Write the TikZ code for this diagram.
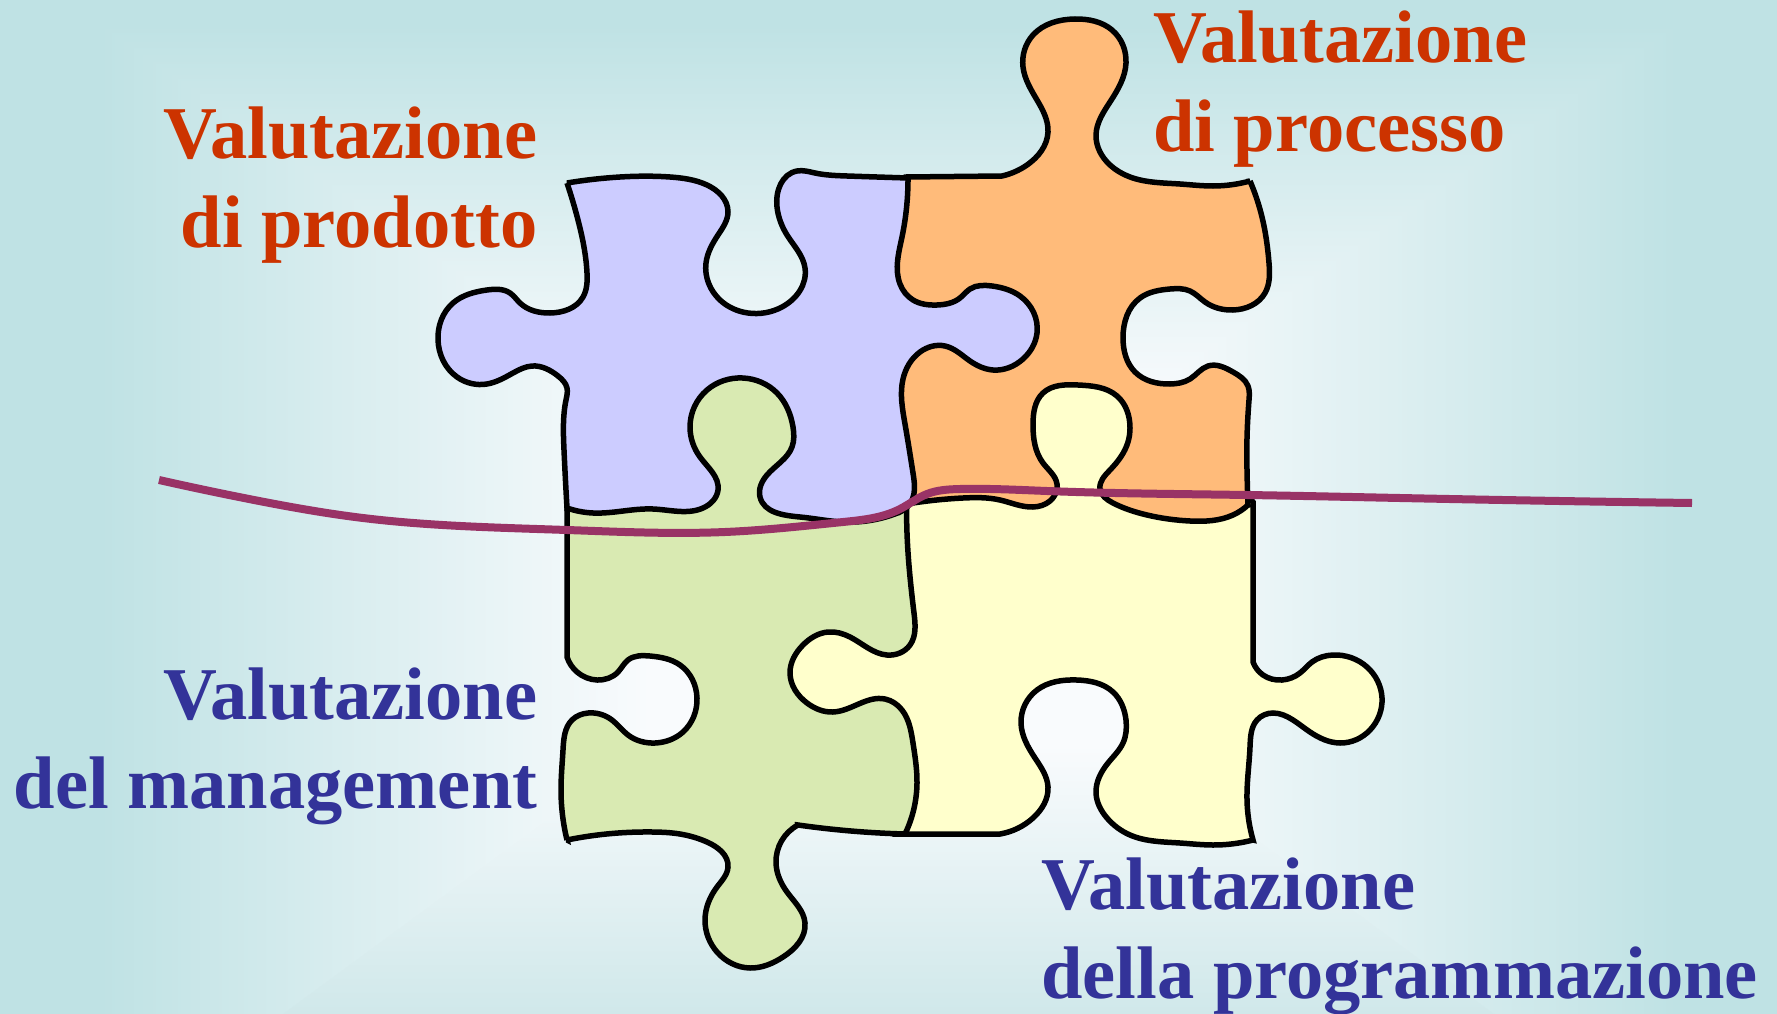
\documentclass[tikz,border=0pt]{standalone}
\usepackage{fontspec}
\usetikzlibrary{hobby}
\setmainfont{Liberation Serif}
\definecolor{bgedge}{HTML}{BFE2E4}
\definecolor{bgbot}{HTML}{D0E8EA}
\definecolor{bgmid}{HTML}{F9FBFD}
\definecolor{txtred}{HTML}{CC3300}
\definecolor{txtblue}{HTML}{333399}
\definecolor{pviolet}{HTML}{CCCCFF}
\definecolor{porange}{HTML}{FFBB7A}
\definecolor{pgreen}{HTML}{D9EAB2}
\definecolor{pyellow}{HTML}{FFFFCC}
\definecolor{wire}{HTML}{993366}
\pgfdeclareverticalshading{bgtop}{100bp}{color(0bp)=(bgmid); color(25bp)=(bgmid); color(71.9bp)=(bgedge); color(100bp)=(bgedge)}
\pgfdeclarehorizontalshading{bgleft}{100bp}{color(0bp)=(bgedge); color(32.7bp)=(bgedge); color(75bp)=(bgmid); color(100bp)=(bgmid)}
\pgfdeclarehorizontalshading{bgright}{100bp}{color(0bp)=(bgmid); color(25bp)=(bgmid); color(67.3bp)=(bgedge); color(100bp)=(bgedge)}
\tikzset{
  piece/.style={draw=black,line width=5.5pt,line join=miter,miter limit=3,use Hobby shortcut},
  lab/.style={font=\fontsize{74.5}{89}\selectfont\bfseries,inner sep=0pt}
}
\begin{document}
\begin{tikzpicture}[x=1pt,y=-1pt]
\useasboundingbox (0,0) rectangle (1777,1014);
% background
\fill[bgmid] (640,0) rectangle (1137,1014);
\shade[shading=bgleft,shading angle=0] (0,0) rectangle (650,1014);
\shade[shading=bgright,shading angle=0] (1127,0) rectangle (1777,1014);
\shade[shading=bgtop,shading angle=0] (0,0) -- (1777,0) -- (1677,25) -- (1127,405) -- (650,405) -- (100,25) -- cycle;
\shade[top color=bgmid,bottom color=bgbot] (650,745) -- (1127,745) -- (1494,1014) -- (283,1014) -- cycle;
% yellow
\path[piece,fill=pyellow]
  (1253,502) -- (1253,662)
  .. (1263,675) .. (1282,680) .. (1300,673) .. (1312,662) .. (1333,655) .. (1367,667) .. (1382,698) .. (1370,730) .. (1340,743) .. (1310,732) .. (1293,720) .. (1273,713) .. (1257,720) .. (1250,747) .. (1247,800) .. (1253,840)
  -- (1253,840)
  .. (1213,845) .. (1180,843) .. (1130,835) .. (1107,818) .. (1096,793) .. (1108,763) .. (1123,743) .. (1126,720) .. (1113,692) .. (1077,680) .. (1037,690) .. (1021,723) .. (1035,758) .. (1048,787) .. (1033,818) .. (1000,834)
  -- (895,834) -- (895,730) -- (780,730) -- (780,625) -- (895,625) -- (895,480) -- (1020,480) -- (1020,382) -- (1134,382) -- (1134,480) -- (1235,480) -- cycle;
% green
\path[piece,fill=pgreen]
  (567,490) -- (567,657)
  .. (577,672) .. (597,680) .. (618,672) .. (628,660) .. (650,656) .. (680,665) .. (697,698) .. (683,732) .. (655,743) .. (628,735) .. (612,720) .. (588,713) .. (572,720) .. (563,750) .. (561,790) .. (567,840)
  -- (567,840)
  .. (590,836) .. (653,832) .. (680,834) .. (707,842) .. (728,867) .. (717,887) .. (705,920) .. (717,952) .. (750,968) .. (783,957) .. (805,923) .. (787,892) .. (776,863) .. (798,825)
  -- (798,825)
  .. (840,830) .. (905,834)
  -- (905,834)
  .. (917,783) .. (913,743) .. (902,710) .. (885,699) .. (833,712) .. (807,703) .. (790,673) .. (803,645) .. (828,632) .. (850,637) .. (887,655) .. (910,645) .. (914,613) .. (907,533) .. (907,490)
  -- (800,480) -- (800,370) -- (680,370) -- (680,480) -- cycle;
% orange
\path[piece,fill=porange]
  (906,177) -- (1002,176)
  .. (1027,165) .. (1048,132) .. (1037,100) .. (1023,67) .. (1033,35) .. (1075,19) .. (1112,30) .. (1126,63) .. (1110,102) .. (1096,135) .. (1110,165) .. (1130,177) .. (1180,184) .. (1213,186) .. (1250,181)
  -- (1250,181)
  .. (1262,217) .. (1269,263) .. (1265,293) .. (1233,310) .. (1205,302) .. (1190,291) .. (1170,289) .. (1140,298) .. (1123,338) .. (1135,372) .. (1170,384) .. (1190,379) .. (1208,366) .. (1233,372) .. (1248,386) .. (1249,400) .. (1247,438) .. (1247,470) .. (1248,505)
  -- (1248,505)
  .. (1233,515) .. (1190,521) .. (1147,515) .. (1113,503) .. (1100,489) .. (1110,470) .. (1128,442) .. (1130,428) .. (1117,396) .. (1078,385) .. (1043,393) .. (1033,424) .. (1043,463) .. (1057,484) .. (1050,501) .. (1033,507) .. (1000,500) .. (963,498) .. (913,503)
  -- (895,503) -- (895,240) -- cycle;
% violet
\path[piece,fill=pviolet]
  (567,183) .. (620,177) .. (670,177) .. (707,185) .. (728,212) .. (718,235) .. (706,263) .. (720,300) .. (748,313) .. (782,307) .. (805,268) .. (787,235) .. (777,207) .. (797,171) .. (815,173) .. (847,176) .. (908,178)
  -- (908,178)
  .. (902,237) .. (900,284) .. (913,300) .. (937,305) .. (960,298) .. (970,289) .. (992,286) .. (1020,296) .. (1037,333) .. (1023,359) .. (993,370) .. (970,361) .. (945,346) .. (920,352) .. (903,379) .. (905,424) .. (913,473) .. (912,500) .. (900,512)
  -- (900,512)
  .. (843,522) .. (800,517) .. (760,497) .. (767,475) .. (792,447) .. (793,427) .. (777,393) .. (743,378) .. (707,390) .. (690,427) .. (700,457) .. (718,490) .. (703,508) .. (653,509) .. (593,513) .. (567,508)
  -- (567,508)
  .. (564,450) .. (566,400) .. (567,388) .. (558,376) .. (532,366) .. (513,373) .. (487,384) .. (457,377) .. (438,340) .. (453,303) .. (487,290) .. (510,293) .. (520,303) .. (550,313) .. (583,297) .. (587,273) .. (578,220) .. (567,183)
  -- cycle;
% wire
\coordinate (w0) at (159,480);
\coordinate (w1) at (1692,503);
\draw[wire,line width=8pt,use Hobby shortcut] (w0) .. (249,499) .. (363,518) .. (567,530) .. (725,532) .. (843,522) .. (900,509) .. (927,494) .. (960,489) .. (1047,491) .. (1247,495) .. (1400,498) .. (w1);
% labels
\node[lab,text=txtred,align=right,anchor=north east] (prodotto) at (537.5,107) {Valutazione\\di prodotto};
\node[lab,text=txtred,align=left,anchor=north west] (processo) at (1153,11) {Valutazione\\di processo};
\node[lab,text=txtblue,align=right,anchor=north east] (management) at (537.5,668) {Valutazione\\del management};
\node[lab,text=txtblue,align=left,anchor=north west] (programmazione) at (1041,858) {Valutazione\\della programmazione};
\end{tikzpicture}
\end{document}
